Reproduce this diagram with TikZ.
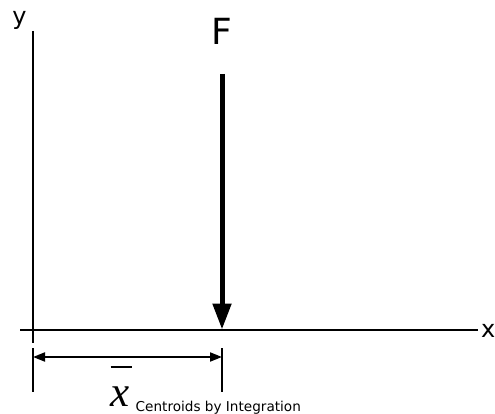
\documentclass[tikz,border=0pt]{standalone}
\usepackage{fontspec}
\setmainfont{DejaVu Sans}
\newfontfamily\timesfont{Liberation Serif}
\usetikzlibrary{arrows.meta, calc}

\begin{document}
\begin{tikzpicture}[x=1pt, y=-1pt,
        axis/.style={line width=2pt},
        force/.style={line width=5pt, -{Triangle[length=26pt, width=18pt]}},
        dim/.style={line width=2pt, {Triangle[length=12pt, width=9pt]}-{Triangle[length=12pt, width=9pt]}},
        ext/.style={line width=2pt},
        lbl/.style={inner sep=0pt, font=\fontsize{24}{28}\selectfont}]
        \useasboundingbox (0,0) rectangle (495,414);
        % axes
        \coordinate (ytop) at (33,31);
        \coordinate (ybot) at (33,343);
        \coordinate (xleft) at (20,329.5);
        \coordinate (xright) at (478,329.5);
        \draw[axis] (ytop) -- (ybot);
        \draw[axis] (xleft) -- (xright);
        \node[lbl, anchor=base] (ylab) at (19.5,25) {y};
        \node[lbl, anchor=base west] (xlab) at (481,337) {x};
        % force
        \node[lbl, anchor=base, font=\fontsize{36}{40}\selectfont] (flab) at (221.5,44.3) {F};
        \coordinate (ftop) at (222,74);
        \coordinate (fpt) at (222,329.5);
        \draw[force] (ftop) -- (fpt);
        % dimension
        \coordinate (e1a) at (33,348);
        \coordinate (e1b) at (33,392);
        \coordinate (e2a) at (222,348);
        \coordinate (e2b) at (222,392);
        \draw[ext] (e1a) -- (e1b);
        \draw[ext] (e2a) -- (e2b);
        \draw[dim] (33,357) -- (222,357);
        \node[inner sep=0pt, anchor=base, font=\timesfont\itshape\fontsize{43}{46}\selectfont] (xsym) at (120,406) {x};
        \draw[line width=2.2pt] ($(xsym.base)+(-9.5,-39)$) -- ++(21,0);
        \node[inner sep=0pt, anchor=base west, font=\fontsize{13.6}{16}\selectfont] (cap) at (135.5,411.5) {Centroids by Integration};
    \end{tikzpicture}
\end{document}
